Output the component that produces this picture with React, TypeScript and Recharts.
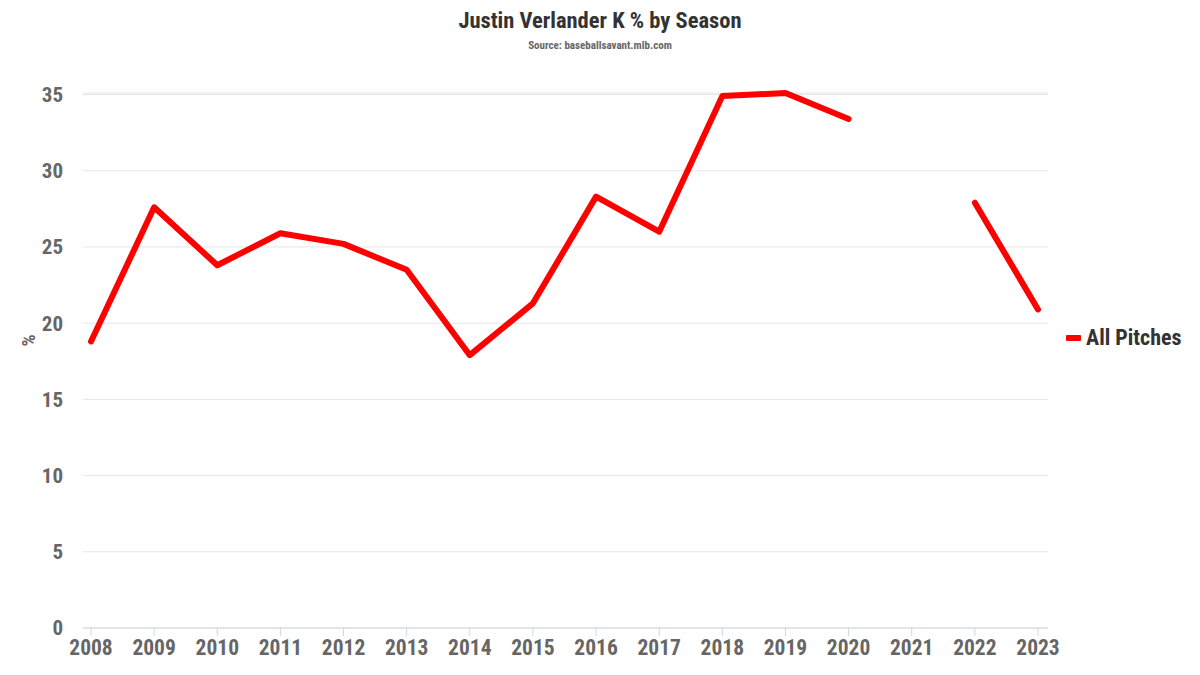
import { CartesianGrid, Legend, Line, LineChart, XAxis, YAxis } from 'recharts';

const seasons = ['2008', '2009', '2010', '2011', '2012', '2013', '2014', '2015', '2016', '2017', '2018', '2019', '2020', '2021', '2022', '2023'];
const kPct: (number | null)[] = [18.8, 27.6, 23.8, 25.9, 25.2, 23.5, 17.9, 21.3, 28.3, 26.0, 34.9, 35.1, 33.4, null, 27.9, 20.9];
const yTicks = [0, 5, 10, 15, 20, 25, 30, 35];

const data = seasons.map((season, i) => ({ season, allPitches: kPct[i] }));

const font = "'Roboto Condensed', 'Liberation Sans Narrow', 'DejaVu Sans Condensed', Roboto, sans-serif";

function LegendBox() {
    return (
        <div style={{ display: 'flex', alignItems: 'center', fontFamily: font, fontWeight: 700, fontSize: 22, color: '#333', whiteSpace: 'nowrap' }}>
            <span style={{ display: 'inline-block', width: 15, height: 6, background: '#ff0000', marginRight: 5, borderRadius: 1 }} />
            All Pitches
        </div>
    );
}

export default function App() {
    return (
        <div style={{ position: 'absolute', left: 0, top: 0, width: 1200, height: 675, background: '#fff', fontFamily: font }}>
            <div style={{ position: 'absolute', top: 7, width: 1200, textAlign: 'center', fontWeight: 700, fontSize: 22.5, color: '#333' }}>
                Justin Verlander K % by Season
            </div>
            <div style={{ position: 'absolute', top: 39, width: 1200, textAlign: 'center', fontWeight: 700, fontSize: 11, color: '#666' }}>
                Source: baseballsavant.mlb.com
            </div>
            {/* legend box width gets added to the right offset, so margin here is small */}
            <LineChart width={1200} height={675} data={data} margin={{ top: 93, right: 18, left: 0, bottom: 0 }}>
                <CartesianGrid vertical={false} stroke="#e6e6e6" />
                <XAxis
                    dataKey="season"
                    padding={{ left: 8, right: 10 }}
                    height={47}
                    stroke="#ccd6eb"
                    tickSize={8}
                    interval={0}
                    tick={{ fontSize: 21.5, fontWeight: 700, fill: '#666', fontFamily: font }}
                    tickMargin={4}
                />
                <YAxis
                    width={83}
                    domain={[0, 35]}
                    ticks={yTicks}
                    axisLine={false}
                    tickLine={false}
                    tickMargin={14}
                    tick={{ fontSize: 21, fontWeight: 700, fill: '#666', fontFamily: font }}
                    label={{ value: '%', angle: -90, position: 'insideLeft', dx: 23, dy: -14, style: { fontSize: 19, fontWeight: 700, fill: '#666', fontFamily: font } }}
                />
                <Legend
                    layout="horizontal"
                    align="right"
                    verticalAlign="middle"
                    content={<LegendBox />}
                    wrapperStyle={{ left: 1066, top: 325, width: 134, height: 28 }}
                />
                <Line
                    type="linear"
                    dataKey="allPitches"
                    stroke="#ff0000"
                    strokeWidth={6}
                    strokeLinecap="round"
                    strokeLinejoin="round"
                    dot={false}
                    activeDot={false}
                    connectNulls={false}
                    isAnimationActive={false}
                />
            </LineChart>
        </div>
    );
}
